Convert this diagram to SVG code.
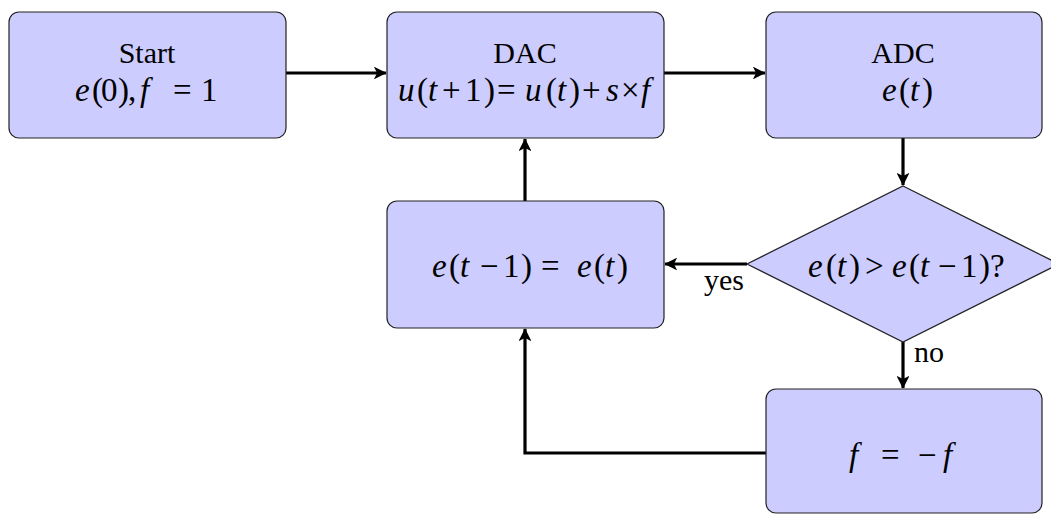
<svg xmlns="http://www.w3.org/2000/svg" width="1051" height="515" viewBox="0 0 1051 515" font-family="'Liberation Serif', 'DejaVu Serif', serif">
  <defs>
    <style>
      .box { fill: #ccccff; stroke: #222; stroke-width: 1.2; }
      .wire { fill: none; stroke: #000; stroke-width: 3.2; }
      .t { font-family: 'Liberation Serif', 'DejaVu Serif', serif; font-size: 30px; fill: #000; text-anchor: middle; }
      .m { font-family: 'Liberation Serif', 'DejaVu Serif', serif; font-size: 33px; fill: #000; }
      .lbl { font-family: 'Liberation Serif', 'DejaVu Serif', serif; font-size: 30px; fill: #000; }
      .i { font-style: italic; }
    </style>
    <marker id="arrow" viewBox="0 0 10 10" refX="9.5" refY="5" markerWidth="4" markerHeight="4" orient="auto" markerUnits="strokeWidth">
      <path d="M0,0 L10,5 L0,10 L2.5,5 Z" fill="#000"/>
    </marker>
  </defs>

  <!-- connectors -->
  <g id="connectors">
    <path class="wire" d="M286,73 H386" marker-end="url(#arrow)"/>
    <path class="wire" d="M664,73 H765" marker-end="url(#arrow)"/>
    <path class="wire" d="M903,138 V185" marker-end="url(#arrow)"/>
    <path class="wire" d="M747,264 H665" marker-end="url(#arrow)"/>
    <path class="wire" d="M903,342 V388" marker-end="url(#arrow)"/>
    <path class="wire" d="M525,201 V139" marker-end="url(#arrow)"/>
    <path class="wire" d="M766,453 H525 V329" marker-end="url(#arrow)"/>
    <text class="lbl" x="704" y="290">yes</text>
    <text class="lbl" x="914" y="362">no</text>
  </g>

  <!-- start -->
  <g id="start">
    <rect class="box" x="9" y="12" width="277" height="126" rx="10"/>
    <text class="t" x="147" y="63">Start</text>
    <text class="m" y="101"><tspan class="i" x="75">e</tspan><tspan x="92">(</tspan><tspan x="101">0</tspan><tspan x="118">)</tspan><tspan x="128">,</tspan><tspan class="i" x="140">f</tspan><tspan x="173">=</tspan><tspan x="201">1</tspan></text>
  </g>

  <!-- dac -->
  <g id="dac">
    <rect class="box" x="387" y="12" width="277" height="126" rx="10"/>
    <text class="t" x="525" y="63">DAC</text>
    <text class="m" y="101"><tspan class="i" x="398">u</tspan><tspan x="417">(</tspan><tspan class="i" x="428">t</tspan><tspan x="442">+</tspan><tspan x="465">1</tspan><tspan x="484">)</tspan><tspan x="497">=</tspan><tspan class="i" x="525">u</tspan><tspan x="546">(</tspan><tspan class="i" x="557">t</tspan><tspan x="569">)</tspan><tspan x="582">+</tspan><tspan class="i" x="606">s</tspan><tspan x="621">×</tspan><tspan class="i" x="641">f</tspan></text>
  </g>

  <!-- adc -->
  <g id="adc">
    <rect class="box" x="766" y="12" width="276" height="126" rx="10"/>
    <text class="t" x="903" y="63">ADC</text>
    <text class="m" y="101"><tspan class="i" x="882">e</tspan><tspan x="899">(</tspan><tspan class="i" x="910">t</tspan><tspan x="922">)</tspan></text>
  </g>

  <!-- compare -->
  <g id="compare">
    <polygon class="box" points="903,186 1059,264 903,342 747,264"/>
    <text class="m" y="277"><tspan class="i" x="808">e</tspan><tspan x="826">(</tspan><tspan class="i" x="837">t</tspan><tspan x="849">)</tspan><tspan x="865">&gt;</tspan><tspan class="i" x="892">e</tspan><tspan x="909">(</tspan><tspan class="i" x="920">t</tspan><tspan x="938">−</tspan><tspan x="961">1</tspan><tspan x="979">)</tspan><tspan x="990">?</tspan></text>
  </g>

  <!-- update -->
  <g id="update">
    <rect class="box" x="387" y="201" width="277" height="127" rx="10"/>
    <text class="m" y="277"><tspan class="i" x="432">e</tspan><tspan x="449">(</tspan><tspan class="i" x="460">t</tspan><tspan x="480">−</tspan><tspan x="503">1</tspan><tspan x="521">)</tspan><tspan x="541">=</tspan><tspan class="i" x="577">e</tspan><tspan x="594">(</tspan><tspan class="i" x="605">t</tspan><tspan x="617">)</tspan></text>
  </g>

  <!-- flip -->
  <g id="flip">
    <rect class="box" x="766" y="389" width="276" height="124" rx="10"/>
    <text class="m" y="466"><tspan class="i" x="849">f</tspan><tspan x="881">=</tspan><tspan x="918">−</tspan><tspan class="i" x="943">f</tspan></text>
  </g>
</svg>
